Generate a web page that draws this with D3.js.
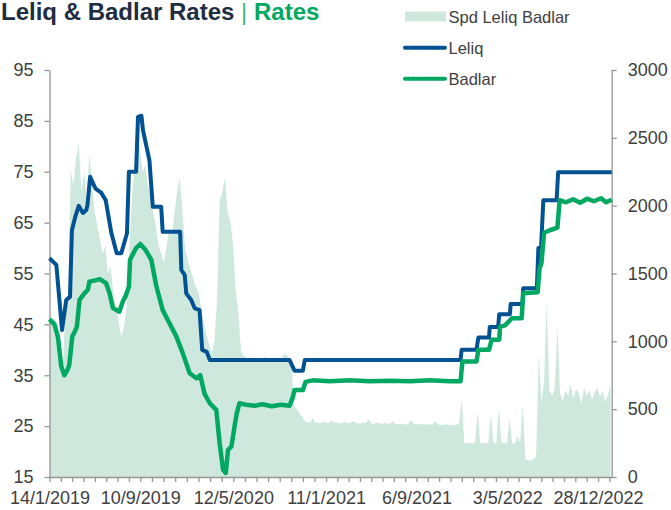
<!DOCTYPE html>
<html>
<head>
<meta charset="utf-8">
<script src="https://cdn.jsdelivr.net/npm/d3@7"></script>
<style>
  body { margin: 0; background: #fff; }
  svg { display: block; font-family: "Liberation Sans", Arial, sans-serif; }
</style>
</head>
<body>
<svg id="chart" width="671" height="510"></svg>
<script>
// Axis labels shown under the chart (every 8th tick)
var labelDates = ["2019-01-14", "2019-09-10", "2020-05-12", "2021-01-11", "2021-09-06", "2022-05-03", "2022-12-28"];
var leftTicks = [15, 25, 35, 45, 55, 65, 75, 85, 95];
var rightTicks = [0, 500, 1000, 1500, 2000, 2500, 3000];

// Leliq rate, % (left axis)
var leliq = [
  ["2019-01-14", 58.0], ["2019-02-01", 56.7], ["2019-02-16", 43.9], ["2019-02-27", 49.8],
  ["2019-03-09", 50.4], ["2019-03-14", 63.5], ["2019-03-23", 66.2], ["2019-04-01", 68.3],
  ["2019-04-12", 66.9], ["2019-04-21", 67.5], ["2019-04-24", 68.5], ["2019-05-01", 74.0],
  ["2019-05-15", 71.7], ["2019-05-30", 70.9], ["2019-06-11", 69.4], ["2019-06-26", 62.9],
  ["2019-07-10", 59.0], ["2019-07-22", 59.0], ["2019-08-06", 62.9], ["2019-08-11", 75.0],
  ["2019-08-30", 75.0], ["2019-09-04", 85.8], ["2019-09-13", 86.0], ["2019-09-17", 83.2],
  ["2019-10-04", 77.3], ["2019-10-13", 68.1], ["2019-11-04", 68.1], ["2019-11-08", 63.2],
  ["2019-12-24", 63.2], ["2019-12-27", 55.7], ["2020-01-05", 54.7], ["2020-01-09", 51.1],
  ["2020-01-22", 49.8], ["2020-01-31", 48.2], ["2020-02-13", 47.8], ["2020-02-20", 40.0],
  ["2020-03-03", 39.6], ["2020-03-11", 38.0], ["2020-10-07", 38.0], ["2020-10-20", 35.9],
  ["2020-11-11", 35.9], ["2020-11-16", 38.0], ["2021-12-31", 38.0], ["2022-01-03", 40.0],
  ["2022-02-11", 40.0], ["2022-02-16", 42.4], ["2022-03-16", 42.4], ["2022-03-18", 44.5],
  ["2022-04-09", 44.5], ["2022-04-12", 47.0], ["2022-05-10", 47.0], ["2022-05-12", 49.0],
  ["2022-06-12", 49.0], ["2022-06-14", 52.1], ["2022-07-20", 52.1], ["2022-07-24", 60.0],
  ["2022-07-31", 60.0], ["2022-08-06", 69.4], ["2022-09-10", 69.4], ["2022-09-14", 74.9],
  ["2023-02-02", 74.9]
];

// Badlar rate, % (left axis)
var badlar = [
  ["2019-01-14", 46.0], ["2019-01-27", 45.0], ["2019-02-05", 42.6], ["2019-02-14", 36.7],
  ["2019-02-22", 35.0], ["2019-03-02", 36.0], ["2019-03-07", 37.0], ["2019-03-15", 42.6],
  ["2019-03-21", 43.5], ["2019-03-27", 44.5], ["2019-04-03", 49.8], ["2019-04-16", 51.1],
  ["2019-04-25", 51.8], ["2019-04-29", 53.4], ["2019-05-17", 53.7], ["2019-05-26", 53.9],
  ["2019-06-12", 53.1], ["2019-06-21", 51.1], ["2019-06-30", 48.2], ["2019-07-17", 47.5],
  ["2019-07-26", 49.5], ["2019-08-02", 50.5], ["2019-08-11", 52.4], ["2019-08-14", 57.7],
  ["2019-08-30", 60.0], ["2019-09-10", 60.8], ["2019-09-24", 59.6], ["2019-10-09", 57.7],
  ["2019-10-22", 52.6], ["2019-11-08", 47.8], ["2019-11-26", 45.2], ["2019-12-14", 42.6],
  ["2019-12-31", 39.3], ["2020-01-18", 35.4], ["2020-02-05", 34.4], ["2020-02-15", 35.0],
  ["2020-02-26", 31.4], ["2020-03-11", 29.5], ["2020-03-28", 28.2], ["2020-04-06", 21.6],
  ["2020-04-15", 16.4], ["2020-04-22", 15.8], ["2020-04-28", 20.3], ["2020-05-07", 21.0],
  ["2020-05-15", 24.9], ["2020-05-21", 27.5], ["2020-05-28", 29.5], ["2020-06-15", 29.2],
  ["2020-07-07", 29.0], ["2020-07-28", 29.3], ["2020-08-21", 28.9], ["2020-09-14", 29.2],
  ["2020-10-07", 29.0], ["2020-10-16", 30.8], ["2020-10-20", 32.1], ["2020-11-11", 32.1],
  ["2020-11-18", 33.7], ["2020-12-07", 34.0], ["2021-01-21", 33.8], ["2021-03-14", 34.0],
  ["2021-05-06", 33.8], ["2021-06-28", 33.9], ["2021-08-19", 33.8], ["2021-10-11", 34.0],
  ["2021-12-03", 33.8], ["2021-12-31", 33.8], ["2022-01-05", 37.7], ["2022-02-11", 37.7],
  ["2022-02-16", 40.0], ["2022-03-16", 40.0], ["2022-03-23", 42.0], ["2022-04-12", 42.0],
  ["2022-04-14", 44.5], ["2022-04-27", 44.8], ["2022-05-15", 46.2], ["2022-06-10", 46.2],
  ["2022-06-14", 51.1], ["2022-07-22", 51.3], ["2022-07-27", 56.0], ["2022-08-01", 57.0],
  ["2022-08-08", 63.0], ["2022-08-23", 63.5], ["2022-09-12", 64.0], ["2022-09-18", 69.4],
  ["2022-10-05", 69.0], ["2022-10-23", 69.6], ["2022-11-11", 68.9], ["2022-11-29", 69.7],
  ["2022-12-17", 69.2], ["2023-01-05", 69.8], ["2023-01-18", 69.0], ["2023-02-02", 69.5]
];

// Spread Leliq - Badlar in bps (right axis), one reading per week from spreadStart
var spreadStart = "2019-01-14";
var spreadValues = [
  1200, 1150, 1170, 1100, 950, 820, 1250, 1300, 2260, 2150,
  2350, 2460, 2100, 2250, 2050, 2380, 2150, 1950, 1850, 1750,
  1650, 1700, 1500, 1550, 1350, 1250, 1150, 1030, 1100, 1250,
  1700, 2050, 2300, 2500, 2420, 2250, 2300, 2150, 2080, 1950,
  1850, 1700, 1650, 1580, 1700, 1820, 1780, 1950, 2100, 2210,
  1950, 1680, 1600, 1530, 1470, 1400, 1370, 1250, 1150, 1050,
  980, 910, 1000, 1300, 2040, 2100, 2210, 1950, 1880, 1720,
  1380, 1220, 930, 890, 880, 870, 860, 880, 855, 870,
  865, 890, 860, 875, 850, 870, 880, 860, 900, 910,
  870, 840, 520, 500, 470, 450, 410,
  405, 400, 435, 398, 402, 395, 410, 400, 396, 420, 398, 402, 395, 400,
  405, 398, 392, 415, 400, 396, 394, 402, 398, 425, 395, 392, 400, 396, 390,
  398, 394, 390, 412, 392, 388, 395, 390, 386, 392, 418, 388, 390, 385, 392,
  388, 385, 390, 386, 410, 388, 384, 386, 390, 382, 386, 384, 388, 385,
  580, 250, 245, 255, 248, 252, 480, 250, 246, 255, 248,
  455, 252, 245, 505, 250, 255, 246, 430, 250, 245, 300, 250, 530,
  130, 125, 120, 130, 150, 900, 550, 700, 1290, 640, 600, 650, 1100, 620,
  560, 640, 600, 680, 580, 650, 620, 540, 660, 600, 640, 570, 620, 660, 590, 630, 550, 610, 670
];

var colors = {
  leliq: "#005293",
  badlar: "#00A862",
  spread: "#CFE8DE",
  title: "#1E2D42",
  axis: "#959595",
  text: "#404040"
};

var parse = d3.timeParse("%Y-%m-%d");
var fmt = d3.timeFormat("%-d/%-m/%Y");

var leliqData = leliq.map(function(d) { return { date: parse(d[0]), value: d[1] }; });
var badlarData = badlar.map(function(d) { return { date: parse(d[0]), value: d[1] }; });
var spreadData = spreadValues.map(function(v, i) {
  return { date: d3.timeDay.offset(parse(spreadStart), 7 * i), value: v };
});

var plotLeft = 49.5, plotRight = 611.7, plotTop = 70, plotBottom = 477;

var x = d3.scaleTime()
  .domain([parse("2019-01-14"), parse("2023-02-02")])
  .range([plotLeft, plotRight]);
var yL = d3.scaleLinear().domain([15, 95]).range([plotBottom, plotTop]);
var yR = d3.scaleLinear().domain([0, 3000]).range([plotBottom, plotTop]);

var svg = d3.select("#chart");

// Spread area
svg.append("path")
  .datum(spreadData)
  .attr("fill", colors.spread)
  .attr("d", d3.area()
    .x(function(d) { return x(d.date); })
    .y0(yR(0))
    .y1(function(d) { return yR(d.value); }));

// X ticks: 8 minor intervals between each labelled date
var labels = labelDates.map(parse);
var xTicks = [];
labels.forEach(function(d, i) {
  var next = labels[i + 1];
  if (!next) { return; }
  for (var j = 0; j < 8; j++) {
    xTicks.push(new Date(+d + (next - d) * j / 8));
  }
});
xTicks.push(labels[labels.length - 1]);
var lastStep = (labels[6] - labels[5]) / 8;
xTicks.push(new Date(+labels[6] + lastStep));
var labelKeys = labels.map(function(d) { return +d; });

var xAxis = svg.append("g")
  .attr("transform", "translate(0," + plotBottom + ")")
  .call(d3.axisBottom(x)
    .tickValues(xTicks)
    .tickSize(5)
    .tickSizeOuter(0)
    .tickPadding(9)
    .tickFormat(function(d) { return labelKeys.indexOf(+d) >= 0 ? fmt(d) : ""; }));

var yAxisL = svg.append("g")
  .attr("transform", "translate(" + plotLeft + ",0)")
  .call(d3.axisLeft(yL).tickValues(leftTicks).tickSize(5).tickSizeOuter(0).tickPadding(11)
    .tickFormat(d3.format("d")));

var yAxisR = svg.append("g")
  .attr("transform", "translate(" + plotRight + ",0)")
  .call(d3.axisRight(yR).tickValues(rightTicks).tickSize(5).tickSizeOuter(0).tickPadding(11)
    .tickFormat(d3.format("d")));

[xAxis, yAxisL, yAxisR].forEach(function(g) {
  g.select(".domain").attr("stroke", colors.axis).attr("stroke-width", 1.3);
  g.selectAll(".tick line").attr("stroke", colors.axis).attr("stroke-width", 1.3);
  g.selectAll(".tick text")
    .attr("fill", colors.text)
    .style("font-size", "18px")
    .style("font-family", "'Liberation Sans', Arial, sans-serif");
});

// Lines
var line = d3.line()
  .x(function(d) { return x(d.date); });

svg.append("path")
  .datum(leliqData)
  .attr("fill", "none")
  .attr("stroke", colors.leliq)
  .attr("stroke-width", 4)
  .attr("stroke-linejoin", "round")
  .attr("d", line.y(function(d) { return yL(d.value); }));

svg.append("path")
  .datum(badlarData)
  .attr("fill", "none")
  .attr("stroke", colors.badlar)
  .attr("stroke-width", 4.5)
  .attr("stroke-linejoin", "round")
  .attr("d", line.y(function(d) { return yL(d.value); }));

// Title
var title = svg.append("text")
  .attr("x", 1)
  .attr("y", 20)
  .style("font-size", "24px");
title.append("tspan").attr("font-weight", "bold").attr("fill", colors.title).text("Leliq & Badlar Rates");
title.append("tspan").attr("fill", "#3DB57C").text(" | ");
title.append("tspan").attr("font-weight", "bold").attr("fill", colors.badlar).text("Rates");

// Legend
var legend = svg.append("g").style("font-size", "16.5px").attr("fill", colors.text);
legend.append("rect")
  .attr("x", 405).attr("y", 11.5).attr("width", 41).attr("height", 10)
  .attr("fill", colors.spread);
legend.append("text").attr("x", 448.5).attr("y", 22.5).text("Spd Leliq Badlar");

[["Leliq", colors.leliq, 47.7], ["Badlar", colors.badlar, 78.7]].forEach(function(e) {
  legend.append("line")
    .attr("x1", 405).attr("x2", 445)
    .attr("y1", e[2]).attr("y2", e[2])
    .attr("stroke", e[1]).attr("stroke-width", 4).attr("stroke-linecap", "round");
  legend.append("text").attr("x", 448.5).attr("y", e[2] + 6.5).text(e[0]);
});
</script>
</body>
</html>
